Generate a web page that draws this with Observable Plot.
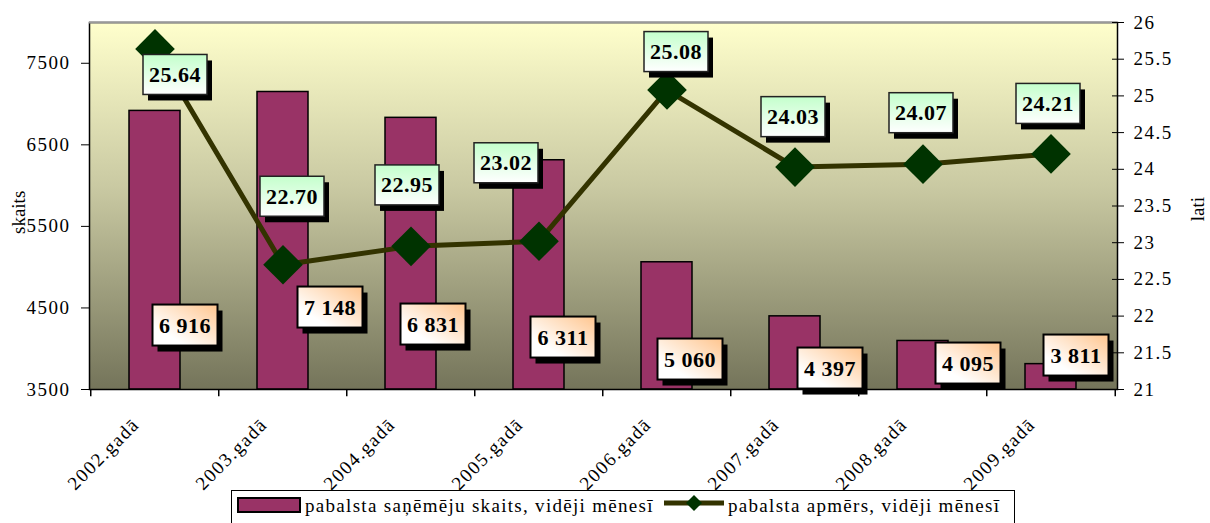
<!DOCTYPE html>
<html><head><meta charset="utf-8">
<script src="https://cdn.jsdelivr.net/npm/d3@7"></script>
<script src="https://cdn.jsdelivr.net/npm/@observablehq/plot@0.6"></script>
<style>
body{margin:0;background:#fff;font-family:"Liberation Serif","Times New Roman",serif;}
#wrap{position:relative;width:1210px;height:523px;overflow:hidden;background:#fff}
#chart svg{display:block}
[aria-label$="tick label"] text{letter-spacing:1.5px}
#legend{position:absolute;left:231px;top:490px;width:784px;height:40px;border:1.5px solid #000;box-sizing:border-box;background:#fff;font-size:19px;letter-spacing:1.3px;color:#000}
#legend .sw{position:absolute;left:5px;top:6px;width:60px;height:12px;background:#993366;border:2px solid #000}
#legend .t1{position:absolute;left:73px;top:3px;line-height:24px;white-space:nowrap}
#legend svg{position:absolute;left:431px;top:0px}
#legend .t2{position:absolute;left:496px;top:3px;line-height:24px;white-space:nowrap}
</style></head>
<body>
<div id="wrap"><div id="chart"></div>
<div id="legend"><span class="sw"></span><span class="t1">pabalsta saņēmēju skaits, vidēji mēnesī</span>
<svg width="62" height="24"><line x1="1" y1="12" x2="61" y2="12" stroke="#333300" stroke-width="5"/><path d="M31,4 L39,12 L31,20 L23,12 Z" fill="#003300"/></svg>
<span class="t2">pabalsta apmērs, vidēji mēnesī</span></div>
</div>
<script>
// ---- data ----
const years = ["2002.gadā","2003.gadā","2004.gadā","2005.gadā","2006.gadā","2007.gadā","2008.gadā","2009.gadā"];
const recipients = [6916, 7148, 6831, 6311, 5060, 4397, 4095, 3811];
const amounts = [25.64, 22.70, 22.95, 23.02, 25.08, 24.03, 24.07, 24.21];
const leftTicks = [3500, 4500, 5500, 6500, 7500];
const rightTicks = [21, 21.5, 22, 22.5, 23, 23.5, 24, 24.5, 25, 25.5, 26];
const recipientLabels = ["6 916","7 148","6 831","6 311","5 060","4 397","4 095","3 811"];
const amountLabels = ["25.64","22.70","22.95","23.02","25.08","24.03","24.07","24.21"];

// ---- label placement (pixels, styling) ----
const amountOffsets = [[20,26],[9,-68],[-4,-61],[-33,-78],[9,-38],[-2,-50],[-2,-51],[-3,-50]];
const countOffsets = [[30,-64],[47,-82],[22,-65],[24,-52],[23,-30],[35,-21],[45,-26],[25,-34]];

const W = 1210, H = 488, mL = 89, mR = 93, mT = 22, mB = H - 389;
const yMin = 3500, yMax = 8000, rMin = 21, rMax = 26;
const toLeft = v => yMin + (v - rMin) * (yMax - yMin) / (rMax - rMin);
const fromLeft = v => rMin + (v - yMin) * (rMax - rMin) / (yMax - yMin);
const step = (W - mL - mR) / years.length;

const rows = years.map((y, i) => ({year: y, n: recipients[i], a: amounts[i], aL: toLeft(amounts[i]), nLab: recipientLabels[i], aLab: amountLabels[i]}));

const marks = [
  Plot.frame({fill: "#ffffcc", ariaDescription: "bg-frame"}),
  Plot.barY(rows, {x: "year", y1: yMin, y2: "n", fill: "#993366", stroke: "#000", strokeWidth: 1.5}),
  Plot.line(rows, {x: "year", y: "aL", stroke: "#333300", strokeWidth: 5}),
  Plot.dot(rows, {x: "year", y: "aL", symbol: "square", r: 15.8, rotate: 45, fill: "#003300", stroke: "none"}),
  ...rows.map((d, i) => Plot.text([d], {x: "year", y: yMin, text: "nLab", dx: countOffsets[i][0], dy: countOffsets[i][1],
      fontSize: 22, fontWeight: "bold", fill: "#000", ariaDescription: "count-label"})),
  ...rows.map((d, i) => Plot.text([d], {x: "year", y: "aL", text: "aLab", dx: amountOffsets[i][0], dy: amountOffsets[i][1],
      fontSize: 22, fontWeight: "bold", fill: "#000", ariaDescription: "amount-label"})),
  Plot.frame({stroke: "#000", strokeWidth: 1.5}),
  Plot.ruleY([yMax], {stroke: "#999", strokeWidth: 2}),
  Plot.ruleX(years, {x: d => d, y1: yMin, y2: yMin - 90, dx: -step / 2, stroke: "#000", strokeWidth: 1.5}),
  Plot.ruleX([years[years.length - 1]], {x: d => d, y1: yMin, y2: yMin - 90, dx: step / 2, stroke: "#000", strokeWidth: 1.5}),
  Plot.axisY(leftTicks, {anchor: "left", tickSize: 8, tickPadding: 11, fontSize: 19, label: null, tickFormat: d => String(d)}),
  Plot.axisY(rightTicks.map(toLeft), {anchor: "right", tickSize: 6, tickPadding: 10, fontSize: 19, label: null,
      tickFormat: v => String(+fromLeft(v).toFixed(1))}),
  Plot.axisY(rightTicks.map(toLeft), {anchor: "right", tickSize: -6, tickFormat: () => "", label: null}),
  Plot.axisX({tickSize: 0, tickRotate: -45, tickPadding: 32, fontSize: 19, label: null, dx: -19}),
  Plot.text(["skaits"], {frameAnchor: "left", dx: -71, dy: 28, rotate: -90, fontSize: 19, fill: "#000"}),
  Plot.text(["lati"], {frameAnchor: "right", dx: 80, dy: -9, rotate: -90, fontSize: 19, fill: "#000"})
];

const chart = Plot.plot({
  width: W, height: H, marginLeft: mL, marginRight: mR, marginTop: mT, marginBottom: mB,
  style: {fontFamily: "'Liberation Serif','Times New Roman',serif", fontSize: "19px", color: "#000", background: "transparent", overflow: "visible"},
  x: {type: "band", domain: years, paddingInner: 0.6, paddingOuter: 0.3, axis: null},
  y: {domain: [yMin, yMax], axis: null},
  marks
});
document.getElementById("chart").appendChild(chart);

// ---- gradients & label boxes ----
const NS = "http://www.w3.org/2000/svg";
const svg = chart.tagName.toLowerCase() === "svg" ? chart : chart.querySelector("svg");
const defs = document.createElementNS(NS, "defs");
defs.innerHTML = `
<linearGradient id="bgGrad" x1="0" y1="0" x2="0" y2="1"><stop offset="0" stop-color="#ffffcc"/><stop offset="0.45" stop-color="#c9c9a2"/><stop offset="1" stop-color="#74745a"/></linearGradient>
<linearGradient id="greenGrad" x1="0" y1="0" x2="0" y2="1"><stop offset="0" stop-color="#c4ffcc"/><stop offset="1" stop-color="#ffffff"/></linearGradient>
<linearGradient id="peachGrad" x1="1" y1="0" x2="0" y2="1"><stop offset="0" stop-color="#ffc58e"/><stop offset="0.75" stop-color="#ffffff"/></linearGradient>`;
svg.insertBefore(defs, svg.firstChild);
const bg = svg.querySelector('[aria-description="bg-frame"] rect') || svg.querySelector('rect[aria-description="bg-frame"]');
if (bg) bg.setAttribute("fill", "url(#bgGrad)");

function boxes(label, w, h, fill, stroke, sw) {
  svg.querySelectorAll(`[aria-description="${label}"] text, text[aria-description="${label}"]`).forEach(t => {
    t.style.letterSpacing = "0.5px";
    const b = t.getBBox();
    const cx = b.x + b.width / 2, cy = b.y + b.height / 2;
    const tr = t.getAttribute("transform");
    const mk = (dx, dy, f, s) => {
      const r = document.createElementNS(NS, "rect");
      r.setAttribute("x", cx - w / 2 + dx); r.setAttribute("y", cy - h / 2 + dy);
      r.setAttribute("width", w); r.setAttribute("height", h);
      r.setAttribute("fill", f);
      if (s) { r.setAttribute("stroke", s); r.setAttribute("stroke-width", sw); }
      if (tr) r.setAttribute("transform", tr);
      t.parentNode.insertBefore(r, t);
    };
    mk(5, 6, "#000", null);
    mk(0, 0, fill, stroke);
  });
}
boxes("count-label", 65, 41, "url(#peachGrad)", "#000", 2);
boxes("amount-label", 64, 40, "url(#greenGrad)", "#222", 1.5);
</script>
</body></html>
